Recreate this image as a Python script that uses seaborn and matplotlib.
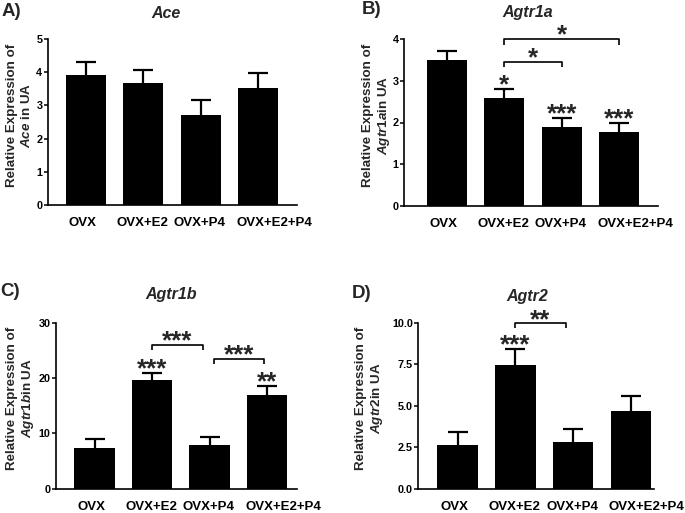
import numpy as np
import pandas as pd
import matplotlib
matplotlib.use("Agg")
import matplotlib.pyplot as plt
from matplotlib.ticker import FormatStrFormatter
from matplotlib.transforms import ScaledTranslation
import seaborn as sns

# ---------------- data ----------------
groups = ["OVX", "OVX+E2", "OVX+P4", "OVX+E2+P4"]

ace_mean = [3.92, 3.67, 2.70, 3.52]
ace_sem = [0.40, 0.40, 0.45, 0.46]

agtr1a_mean = [3.50, 2.59, 1.90, 1.78]
agtr1a_sem = [0.22, 0.21, 0.20, 0.22]

agtr1b_mean = [7.4, 19.7, 7.9, 17.0]
agtr1b_sem = [1.6, 1.3, 1.5, 1.6]

agtr2_mean = [2.61, 7.47, 2.81, 4.66]
agtr2_sem = [0.79, 0.93, 0.77, 0.92]

# significance vs OVX (marks above bars)
agtr1a_sig = ["", "*", "***", "***"]
agtr1b_sig = ["", "***", "", "**"]
agtr2_sig = ["", "***", "", ""]
ace_sig = ["", "", "", ""]

# ---------------- style ----------------
sns.set_style("ticks")
plt.rcParams["font.family"] = ["Liberation Sans", "DejaVu Sans"]
plt.rcParams["font.weight"] = "bold"
plt.rcParams["mathtext.fontset"] = "custom"
plt.rcParams["mathtext.it"] = "Liberation Sans:italic:bold"
plt.rcParams["mathtext.rm"] = "Liberation Sans:bold"
plt.rcParams["mathtext.bf"] = "Liberation Sans:bold"

W, H = 685, 513
fig = plt.figure(figsize=(W / 100, H / 100), dpi=100)

# horizontal nudges (px) of the category labels, as in the original layout
label_shift_px = [-3.5, -1, -1, 16]


def px_axes(x0, x1, ytop, ybot):
    return fig.add_axes([x0 / W, 1 - ybot / H, (x1 - x0) / W, (ybot - ytop) / H])


def star(ax, x, y, txt, dy=-2.5):
    ax.annotate(txt, xy=(x, y), xytext=(0, dy), textcoords="offset points",
                ha="center", va="baseline", fontsize=18.5, fontweight="bold",
                annotation_clip=False)


def panel(ax, means, sems, sig, yticks, xlim, fmt, ylabel_gene, label_xy):
    df = pd.DataFrame({"group": groups, "value": means})
    sns.barplot(data=df, x="group", y="value", color="black", saturation=1,
                width=0.7, errorbar=None, edgecolor="black", linewidth=0,
                ax=ax)
    x = np.arange(len(groups))
    _, caps, _ = ax.errorbar(x, means, yerr=[np.zeros(len(means)), sems],
                             fmt="none", ecolor="black", elinewidth=1.6,
                             capsize=7.2, capthick=1.6)
    # hide the lower cap (sits on the bar top)
    caps[0].set_visible(False)
    ax.set_ylim(yticks[0], yticks[-1])
    ax.set_xlim(*xlim)
    ax.set_yticks(yticks)
    ax.yaxis.set_major_formatter(FormatStrFormatter(fmt))
    sns.despine(ax=ax)
    for s in ("left", "bottom"):
        ax.spines[s].set_linewidth(1.2)
        ax.spines[s].set_color("black")
    ax.tick_params(axis="y", length=2.6, width=1.1, labelsize=7.8, pad=1.2,
                   colors="black")
    ax.tick_params(axis="x", length=0, labelsize=9.5, pad=9, colors="black")
    for lab in ax.get_xticklabels() + ax.get_yticklabels():
        lab.set_fontweight("bold")
    for lab, sh in zip(ax.get_xticklabels(), label_shift_px):
        lab.set_transform(lab.get_transform() +
                          ScaledTranslation(sh / 100, 0, fig.dpi_scale_trans))
    ax.set_xlabel("")
    ax.set_ylabel("Relative Expression of\n" + ylabel_gene,
                  fontsize=9.6, fontweight="bold", linespacing=1.15)
    ax.yaxis.set_label_coords(*label_xy)
    for i, s in enumerate(sig):
        if s:
            star(ax, i, means[i] + sems[i], s)


def bracket(ax, x1, x2, y, h, txt):
    ax.plot([x1, x1, x2, x2], [y - h, y, y, y - h], color="black", lw=1.2,
            clip_on=False, solid_capstyle="butt")
    star(ax, (x1 + x2) / 2, y, txt)


# Panel A
axA = px_axes(47.7, 297, 39, 205)
panel(axA, ace_mean, ace_sem, ace_sig, [0, 1, 2, 3, 4, 5],
      (-0.668, 3.68), "%d", r"$\mathit{Ace}$ in UA", (-0.059, 0.542))

# Panel B
axB = px_axes(404, 658, 39.3, 205.7)
panel(axB, agtr1a_mean, agtr1a_sem, agtr1a_sig, [0, 1, 2, 3, 4],
      (-0.75, 3.68), "%d", r"$\mathit{Agtr1a}$in UA", (-0.049, 0.545))
bracket(axB, 1, 3, 4.0, 0.13, "*")
bracket(axB, 1, 2, 3.46, 0.13, "*")

# Panel C
axC = px_axes(56, 297, 322.7, 488.7)
panel(axC, agtr1b_mean, agtr1b_sem, agtr1b_sig, [0, 10, 20, 30],
      (-0.67, 3.52), "%d", r"$\mathit{Agtr1b}$in UA", (-0.083, 0.546))
bracket(axC, 1.0, 1.88, 26.0, 0.9, "***")
bracket(axC, 2.07, 2.95, 23.4, 0.9, "***")

# Panel D
axD = px_axes(418.3, 654, 322.7, 488.7)
panel(axD, agtr2_mean, agtr2_sem, agtr2_sig, [0, 2.5, 5.0, 7.5, 10.0],
      (-0.68, 3.40), "%.1f", r"$\mathit{Agtr2}$in UA", (-0.141, 0.546))
bracket(axD, 0.99, 1.88, 9.96, 0.3, "**")

# Titles and panel letters
titles = [("Ace", 166, 13), ("Agtr1a", 528, 13), ("Agtr1b", 171.5, 295),
          ("Agtr2", 527, 296)]
for t, xp, yp in titles:
    fig.text(xp / W, 1 - yp / H, t, ha="center", va="center", fontsize=11.5,
             fontweight="bold", fontstyle="italic")

letters = [("A)", 2, 12), ("B)", 362, 10), ("C)", 0, 292), ("D)", 352, 293)]
for t, xp, yp in letters:
    fig.text(xp / W, 1 - yp / H, t, ha="left", va="center", fontsize=13.5,
             fontweight="bold")

fig.savefig("out.png", dpi=100)
